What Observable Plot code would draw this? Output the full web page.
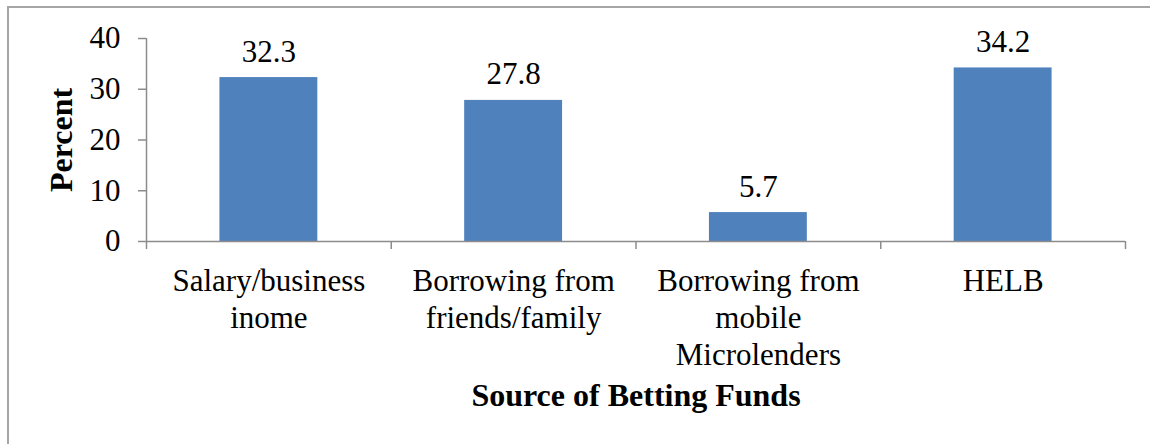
<!DOCTYPE html>
<html>
<head>
<meta charset="utf-8">
<script src="https://cdn.jsdelivr.net/npm/d3@7"></script>
<script src="https://cdn.jsdelivr.net/npm/@observablehq/plot@0.6"></script>
<style>
  html, body { margin: 0; padding: 0; background: #fff; overflow: hidden; }
  #wrap { position: relative; width: 1150px; height: 444px; }
  #border { position: absolute; left: 7px; top: 6px; width: 1200px; height: 500px;
            border-left: 2px solid #a6a6a6; border-top: 2px solid #a6a6a6; pointer-events: none; }
</style>
</head>
<body>
<div id="wrap"><div id="border"></div></div>
<script>
const categories = ["Salary/business\ninome", "Borrowing from\nfriends/family", "Borrowing from\nmobile\nMicrolenders", "HELB"];
const percents = [32.3, 27.8, 5.7, 34.2];
const yTicks = [0, 10, 20, 30, 40];
const yLabel = "Percent";
const xLabel = "Source of Betting Funds";

const data = categories.map((c, i) => ({category: c, idx: i, value: percents[i]}));
const boundaries = d3.range(categories.length + 1);
const axisColor = "#8c8c8c";

const chart = Plot.plot({
  width: 1150,
  height: 444,
  marginLeft: 146,
  marginRight: 25,
  marginTop: 38,
  marginBottom: 203,
  style: {fontFamily: "'Liberation Serif', 'Times New Roman', serif", fontSize: "31px", color: "#000", background: "transparent"},
  x: {domain: [0, categories.length], axis: null},
  y: {domain: [0, 40], axis: null},
  marks: [
    Plot.rectY(data, {x1: d => d.idx + 0.3, x2: d => d.idx + 0.7, y: "value", fill: "#4f81bd"}),
    Plot.axisY({ticks: yTicks, tickSize: 8, tickPadding: 18, stroke: axisColor, strokeWidth: 1.5, fill: "#000", label: null, fontSize: 31}),
    Plot.ruleX([0], {stroke: axisColor, strokeWidth: 1.5}),
    Plot.ruleY([0], {stroke: axisColor, strokeWidth: 1.5}),
    Plot.axisX({ticks: boundaries, tickSize: 8, tickFormat: () => "", stroke: axisColor, strokeWidth: 1.5, label: null}),
    Plot.text(data, {x: d => d.idx + 0.5, y: "value", text: d => d.value.toFixed(1), lineAnchor: "bottom", dy: -16, fill: "#000", fontSize: 31}),
    Plot.text(data, {x: d => d.idx + 0.5, y: 0, text: "category", lineAnchor: "top", lineHeight: 1.2, dy: 23, fill: "#000", fontSize: 31}),
    Plot.text([xLabel], {frameAnchor: "bottom", lineAnchor: "bottom", dy: 164, fontWeight: "bold", fontSize: 32, fill: "#000"}),
    Plot.text([yLabel], {frameAnchor: "left", textAnchor: "middle", rotate: -90, dx: -85, fontWeight: "bold", fontSize: 32, fill: "#000"})
  ]
});
document.getElementById("wrap").prepend(chart);
</script>
</body>
</html>
